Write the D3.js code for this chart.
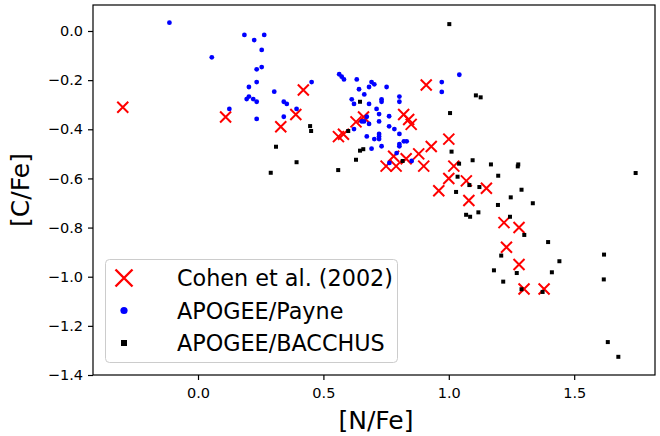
<!DOCTYPE html>
<html>
<head>
<meta charset="utf-8">
<script src="https://d3js.org/d3.v7.min.js"></script>
<style>
  body { margin: 0; background: #fff; }
  svg { display: block; font-family: "DejaVu Sans", sans-serif; }
</style>
</head>
<body>
<svg id="chart" width="660" height="436"></svg>
<script>
// Cohen et al. (2002)
var cohenN = [-0.30, 0.11, 0.33, 0.42, 0.39, 0.56, 0.58, 0.63, 0.66, 0.82, 0.84, 0.85, 0.91,
    0.78, 0.75, 0.79, 0.83, 0.88, 0.93, 0.90, 1.00, 1.02, 1.00, 1.07, 0.96, 1.15, 1.08,
    1.22, 1.28, 1.23, 1.28, 1.30, 1.38];
var cohenC = [-0.31, -0.35, -0.39, -0.24, -0.34, -0.43, -0.42, -0.37, -0.35, -0.34, -0.36, -0.38, -0.22,
    -0.51, -0.55, -0.55, -0.52, -0.50, -0.47, -0.55, -0.44, -0.55, -0.60, -0.61, -0.65, -0.64, -0.69,
    -0.78, -0.80, -0.88, -0.95, -1.05, -1.05];

// APOGEE/Payne
var payneN = [-0.114, 0.055, 0.185, 0.224, 0.264, 0.254, 0.254, 0.234, 0.234, 0.203, 0.304, 0.194,
    0.203, 0.220, 0.234, 0.125, 0.234, 0.342, 0.354, 0.342, 0.453, 0.393, 0.563, 0.573, 0.582,
    0.633, 0.642, 0.663, 0.682, 0.692, 0.703, 0.752, 0.732, 0.732, 0.803, 0.803, 0.613, 0.622,
    0.682, 0.712, 0.722, 0.762, 0.673, 0.653, 0.662, 0.682, 0.722, 0.762, 0.783, 0.803, 0.622,
    0.673, 0.703, 0.722, 0.722, 0.722, 0.732, 0.692, 0.803, 0.803, 0.821, 0.832, 0.792, 0.763,
    0.852, 0.972, 0.972, 1.042];
var payneC = [0.034, -0.107, -0.016, -0.037, -0.016, -0.077, -0.147, -0.156, -0.208, -0.228, -0.247, -0.277,
    -0.267, -0.277, -0.288, -0.317, -0.358, -0.288, -0.297, -0.349, -0.208, -0.317, -0.176, -0.186, -0.197,
    -0.197, -0.237, -0.258, -0.228, -0.208, -0.217, -0.228, -0.278, -0.288, -0.267, -0.288, -0.278, -0.297,
    -0.297, -0.317, -0.338, -0.347, -0.349, -0.368, -0.368, -0.378, -0.368, -0.388, -0.399, -0.419, -0.399,
    -0.429, -0.440, -0.419, -0.429, -0.440, -0.469, -0.479, -0.460, -0.469, -0.449, -0.449, -0.497, -0.537,
    -0.529, -0.208, -0.248, -0.178];

// APOGEE/BACCHUS
var bacchusN = [0.311, 0.290, 1.002, 0.646, 0.447, 0.451, 0.393, 0.599, 0.646, 0.659, 0.630, 0.559,
    0.816, 1.005, 1.011, 1.041, 1.035, 1.029, 1.082, 1.108, 1.127, 1.095, 1.168, 1.277, 1.275,
    1.197, 1.122, 1.290, 1.745, 1.247, 1.196, 1.335, 1.069, 1.085, 1.118, 1.244, 1.301, 1.396,
    1.209, 1.441, 1.619, 1.180, 1.271, 1.411, 1.618, 1.217, 1.290, 1.374, 1.634, 1.676];
var bacchusC = [-0.471, -0.577, 0.028, -0.288, -0.387, -0.407, -0.534, -0.407, -0.487, -0.481, -0.524, -0.566,
    -0.529, -0.334, -0.491, -0.540, -0.593, -0.655, -0.627, -0.262, -0.270, -0.526, -0.543, -0.543, -0.551,
    -0.589, -0.635, -0.646, -0.578, -0.677, -0.708, -0.701, -0.748, -0.756, -0.738, -0.756, -0.830, -0.859,
    -0.914, -0.937, -0.910, -0.974, -0.985, -0.982, -1.011, -1.020, -1.051, -1.062, -1.266, -1.326];

var xTicks = [0.0, 0.5, 1.0, 1.5];
var yTicks = [0.0, -0.2, -0.4, -0.6, -0.8, -1.0, -1.2, -1.4];
var seriesNames = ["Cohen et al. (2002)", "APOGEE/Payne", "APOGEE/BACCHUS"];

var svg = d3.select("#chart");
var plotLeft = 93, plotRight = 655, plotTop = 5, plotBottom = 375;

var x = d3.scaleLinear().domain([-0.4187, 1.8222]).range([plotLeft, plotRight]);
var y = d3.scaleLinear().domain([-1.4, 0.1058]).range([plotBottom, plotTop]);

function zip(a, b) {
    return a.map(function (v, i) { return [v, b[i]]; });
}

// axes
var fmt = function (d) { return d.toFixed(1).replace("-", "\u2212"); };
var xAxis = svg.append("g")
    .attr("transform", "translate(0," + plotBottom + ")")
    .call(d3.axisBottom(x).tickValues(xTicks).tickFormat(fmt).tickSize(5).tickPadding(5));
var yAxis = svg.append("g")
    .attr("transform", "translate(" + plotLeft + ",0)")
    .call(d3.axisLeft(y).tickValues(yTicks).tickFormat(fmt).tickSize(5).tickPadding(5));
[xAxis, yAxis].forEach(function (g) {
    g.select(".domain").remove();
    g.selectAll(".tick line").attr("stroke", "#000").attr("stroke-width", 1.2);
    g.selectAll(".tick text").attr("fill", "#000")
        .style("font-family", "DejaVu Sans").style("font-size", "14.5px");
});
xAxis.selectAll(".tick text").attr("dy", "0.9em");

// points
var gPts = svg.append("g");
var xs = 5.5;
gPts.selectAll("path.cohen").data(zip(cohenN, cohenC)).enter()
    .append("path").attr("class", "cohen")
    .attr("d", function (d) {
        var cx = x(d[0]), cy = y(d[1]);
        return "M" + (cx - xs) + "," + (cy - xs) + "L" + (cx + xs) + "," + (cy + xs) +
            "M" + (cx - xs) + "," + (cy + xs) + "L" + (cx + xs) + "," + (cy - xs);
    })
    .attr("stroke", "#ff0000").attr("stroke-width", 2).attr("fill", "none");

gPts.selectAll("circle.payne").data(zip(payneN, payneC)).enter()
    .append("circle").attr("class", "payne")
    .attr("cx", function (d) { return x(d[0]); })
    .attr("cy", function (d) { return y(d[1]); })
    .attr("r", 2.4).attr("fill", "#0000ff");

gPts.selectAll("rect.bacchus").data(zip(bacchusN, bacchusC)).enter()
    .append("rect").attr("class", "bacchus")
    .attr("x", function (d) { return x(d[0]) - 2; })
    .attr("y", function (d) { return y(d[1]) - 2; })
    .attr("width", 4).attr("height", 4).attr("fill", "#000");

// frame
svg.append("rect")
    .attr("x", plotLeft).attr("y", plotTop)
    .attr("width", plotRight - plotLeft).attr("height", plotBottom - plotTop)
    .attr("fill", "none").attr("stroke", "#000").attr("stroke-width", 1.2);

// legend
var legend = svg.append("g");
legend.append("rect")
    .attr("x", 105.5).attr("y", 259.5).attr("width", 292).attr("height", 103)
    .attr("rx", 4).attr("fill", "#fff").attr("fill-opacity", 0.8)
    .attr("stroke", "#cccccc").attr("stroke-width", 1);

var rowY = [278, 310.5, 343];
var lx = 124, ls = 8.5;
legend.append("path")
    .attr("d", "M" + (lx - ls) + "," + (rowY[0] - ls) + "L" + (lx + ls) + "," + (rowY[0] + ls) +
        "M" + (lx - ls) + "," + (rowY[0] + ls) + "L" + (lx + ls) + "," + (rowY[0] - ls))
    .attr("stroke", "#ff0000").attr("stroke-width", 2.4).attr("fill", "none");
legend.append("circle").attr("cx", lx).attr("cy", rowY[1]).attr("r", 3.6).attr("fill", "#0000ff");
legend.append("rect").attr("x", lx - 3).attr("y", rowY[2] - 3).attr("width", 6).attr("height", 6).attr("fill", "#000");

legend.selectAll("text").data(seriesNames).enter()
    .append("text")
    .attr("x", 177)
    .attr("y", function (d, i) { return rowY[i]; })
    .attr("dy", "0.36em")
    .style("font-size", "22.3px")
    .attr("fill", "#000")
    .text(function (d) { return d; });

// axis labels
svg.append("text")
    .attr("x", (plotLeft + plotRight) / 2 + 2).attr("y", 429)
    .attr("text-anchor", "middle").style("font-size", "25px")
    .text("[N/Fe]");
svg.append("text")
    .attr("transform", "translate(29," + ((plotTop + plotBottom) / 2) + ") rotate(-90)")
    .attr("text-anchor", "middle").style("font-size", "25px")
    .text("[C/Fe]");
</script>
</body>
</html>
